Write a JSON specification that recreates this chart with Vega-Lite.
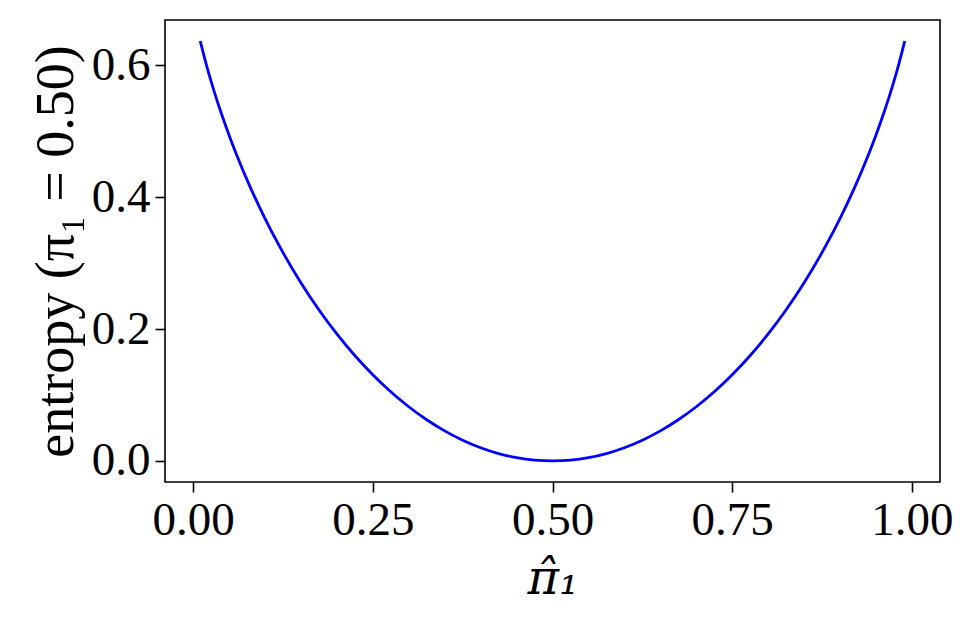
{
  "$schema": "https://vega.github.io/schema/vega-lite/v6.json",
  "width": 775,
  "height": 462,
  "autosize": {"type": "none"},
  "padding": {"left": 165, "top": 20, "right": 33, "bottom": 144},
  "background": "white",
  "config": {
    "view": {"stroke": "black", "strokeWidth": 1.6},
    "axis": {
      "labelFont": "Liberation Serif",
      "titleFont": "Liberation Serif",
      "labelFontSize": 47,
      "titleFontSize": 54,
      "labelColor": "black",
      "titleColor": "black",
      "titleFontWeight": "normal",
      "domain": false,
      "grid": false,
      "tickColor": "black",
      "tickSize": 10,
      "tickWidth": 1.6
    }
  },
  "data": {
    "values": [
      {"p": 0.01, "v": 0.63715},
      {"p": 0.02, "v": 0.59511},
      {"p": 0.03, "v": 0.55841},
      {"p": 0.04, "v": 0.5252},
      {"p": 0.05, "v": 0.49463},
      {"p": 0.06, "v": 0.46618},
      {"p": 0.08, "v": 0.41438},
      {"p": 0.10, "v": 0.36806},
      {"p": 0.12, "v": 0.32622},
      {"p": 0.15, "v": 0.27044},
      {"p": 0.175, "v": 0.22942},
      {"p": 0.20, "v": 0.19274},
      {"p": 0.225, "v": 0.15998},
      {"p": 0.25, "v": 0.13081},
      {"p": 0.275, "v": 0.10498},
      {"p": 0.30, "v": 0.08228},
      {"p": 0.325, "v": 0.06257},
      {"p": 0.35, "v": 0.0457},
      {"p": 0.375, "v": 0.03158},
      {"p": 0.40, "v": 0.02014},
      {"p": 0.425, "v": 0.01129},
      {"p": 0.45, "v": 0.00501},
      {"p": 0.475, "v": 0.00125},
      {"p": 0.50, "v": 0.0},
      {"p": 0.525, "v": 0.00125},
      {"p": 0.55, "v": 0.00501},
      {"p": 0.575, "v": 0.01129},
      {"p": 0.60, "v": 0.02014},
      {"p": 0.625, "v": 0.03158},
      {"p": 0.65, "v": 0.0457},
      {"p": 0.675, "v": 0.06257},
      {"p": 0.70, "v": 0.08228},
      {"p": 0.725, "v": 0.10498},
      {"p": 0.75, "v": 0.13081},
      {"p": 0.775, "v": 0.15998},
      {"p": 0.80, "v": 0.19274},
      {"p": 0.825, "v": 0.22942},
      {"p": 0.85, "v": 0.27044},
      {"p": 0.88, "v": 0.32622},
      {"p": 0.90, "v": 0.36806},
      {"p": 0.92, "v": 0.41438},
      {"p": 0.94, "v": 0.46618},
      {"p": 0.95, "v": 0.49463},
      {"p": 0.96, "v": 0.5252},
      {"p": 0.97, "v": 0.55841},
      {"p": 0.98, "v": 0.59511},
      {"p": 0.99, "v": 0.63715}
    ]
  },
  "mark": {"type": "line", "color": "#0000ff", "strokeWidth": 2.8, "interpolate": "monotone"},
  "encoding": {
    "x": {
      "field": "p",
      "type": "quantitative",
      "scale": {"domain": [-0.039, 1.039], "nice": false, "zero": false},
      "axis": {
        "values": [0, 0.25, 0.5, 0.75, 1.0],
        "format": ".2f",
        "title": "π̂₁",
        "titleFont": "DejaVu Serif",
        "titleFontStyle": "italic",
        "titleFontSize": 48,
        "labelPadding": 5,
        "titlePadding": 12
      }
    },
    "y": {
      "field": "v",
      "type": "quantitative",
      "scale": {"domain": [-0.0319, 0.669], "nice": false, "zero": false},
      "axis": {
        "values": [0, 0.2, 0.4, 0.6],
        "format": ".1f",
        "title": "entropy (π₁ = 0.50)",
        "labelPadding": 5,
        "titlePadding": 8
      }
    }
  }
}
